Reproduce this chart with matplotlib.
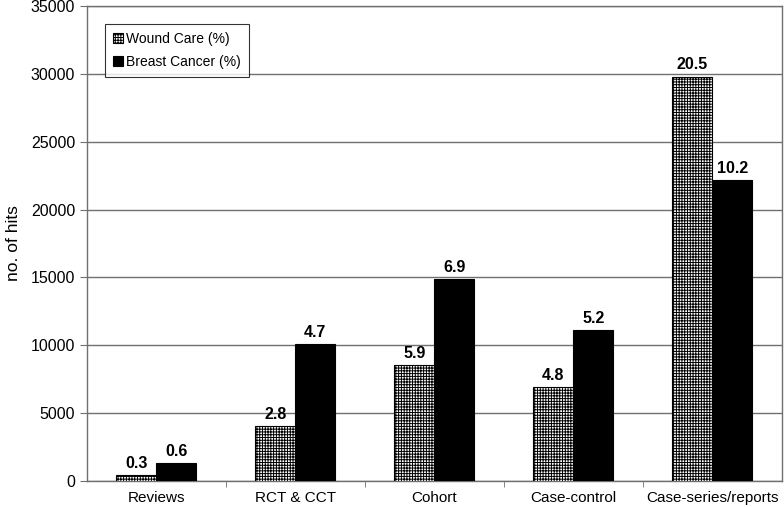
import numpy as np
import matplotlib.pyplot as plt

plt.rcParams['font.family'] = ['Liberation Sans', 'DejaVu Sans']
plt.rcParams['hatch.linewidth'] = 0.7

categories = ['Reviews', 'RCT & CCT', 'Cohort', 'Case-control', 'Case-series/reports']
wound_hits = [450, 4050, 8550, 6900, 29800]
breast_hits = [1300, 10100, 14850, 11100, 22200]
wound_pct = ['0.3', '2.8', '5.9', '4.8', '20.5']
breast_pct = ['0.6', '4.7', '6.9', '5.2', '10.2']

fig = plt.figure(figsize=(7.84, 5.07), dpi=100)
ax = fig.add_axes([0.111, 0.0513, 0.886, 0.937])

x = np.arange(len(categories))
w = 0.288
b1 = ax.bar(x - w / 2, wound_hits, w, color='white', edgecolor='black',
            hatch='++++++', linewidth=0.8, label='Wound Care (%)', zorder=3)
b2 = ax.bar(x + w / 2, breast_hits, w, color='black', edgecolor='black',
            linewidth=0.8, label='Breast Cancer (%)', zorder=3)

for bars, labels in ((b1, wound_pct), (b2, breast_pct)):
    for rect, lab in zip(bars, labels):
        ax.annotate(lab, (rect.get_x() + rect.get_width() / 2, rect.get_height()),
                    xytext=(0, 3), textcoords='offset points',
                    ha='center', va='bottom', fontsize=11.5, fontweight='bold')

ax.set_xlim(-0.5, len(categories) - 0.5)
ax.set_ylim(0, 35000)
ax.set_yticks(np.arange(0, 35001, 5000))
ax.yaxis.grid(True, color='#707070', linewidth=1.0, zorder=0)
ax.set_axisbelow(True)

ax.set_xticks(x)
ax.set_xticklabels(categories, fontsize=11)
ax.tick_params(axis='x', length=0, pad=7)
ax.set_xticks(np.arange(0.5, len(categories) - 0.5, 1), minor=True)
ax.tick_params(axis='x', which='minor', length=4, color='#707070')
ax.tick_params(axis='y', labelsize=11.5, length=5, color='#707070')

for s in ax.spines.values():
    s.set_color('#707070')
    s.set_linewidth(1.0)

ax.set_ylabel('no. of hits', fontsize=12.5, labelpad=7)

leg = ax.legend(loc='upper left', bbox_to_anchor=(0.0165, 0.976), fontsize=10,
                frameon=True, fancybox=False, edgecolor='black',
                handlelength=0.7, handleheight=0.7, handletextpad=0.25,
                borderpad=0.55, labelspacing=0.65)
leg.get_frame().set_linewidth(0.8)

fig.savefig('out.png', dpi=100)
